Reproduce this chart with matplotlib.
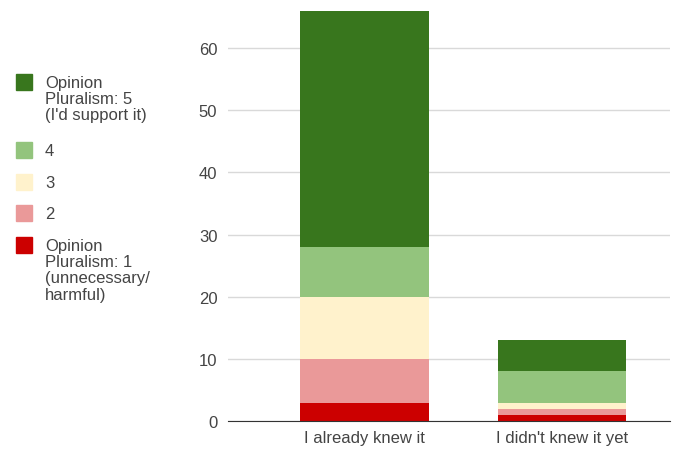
import matplotlib
matplotlib.use("Agg")
import matplotlib.pyplot as plt
import matplotlib.patches as mpatches
import numpy as np

plt.rcParams["font.family"] = ["Liberation Sans", "DejaVu Sans"]

# answers per group, stacked from rating 1 (bottom) to rating 5 (top)
groups = ["I already knew it", "I didn't knew it yet"]
rating_labels = ["Opinion\nPluralism: 1\n(unnecessary/\nharmful)", "2", "3", "4",
                 "Opinion\nPluralism: 5\n(I'd support it)"]
rating_1 = [3, 1]
rating_2 = [7, 1]
rating_3 = [10, 1]
rating_4 = [8, 5]
rating_5 = [38, 5]
colors = ["#cc0000", "#ea9999", "#fff2cc", "#93c47d", "#38761d"]

series = [rating_1, rating_2, rating_3, rating_4, rating_5]

W, H = 684, 452
fig = plt.figure(figsize=(W / 100, H / 100), dpi=100)
ax = fig.add_axes([0.334, 0.066, 0.646, 0.922])

x = np.arange(len(groups))
bottom = np.zeros(len(groups))
for vals, col, lab in zip(series, colors, rating_labels):
    ax.bar(x, vals, bottom=bottom, width=0.65, color=col, label=lab, zorder=2)
    bottom += np.array(vals)

ax.set_xlim(-0.69, 1.55)
ax.set_ylim(0, 67)
ax.set_yticks([0, 10, 20, 30, 40, 50, 60])
ax.set_xticks(x)
ax.set_xticklabels(groups)
ax.grid(axis="y", color="#d9d9d9", linewidth=1, zorder=0)
for s in ["top", "right", "left"]:
    ax.spines[s].set_visible(False)
ax.spines["bottom"].set_color("#333333")
ax.tick_params(axis="both", length=0, labelsize=12, colors="#444444", pad=8)
ax.tick_params(axis="x", pad=6)

# legend drawn by hand so the swatch sits on the first text line
tops = [75, 143, 175, 206, 238]  # pixel rows of swatch tops, top entry first
for top, col, lab in zip(tops, colors[::-1], rating_labels[::-1]):
    fig.patches.append(mpatches.Rectangle((16 / W, 1 - (top + 16) / H), 16 / W, 16 / H,
                                          transform=fig.transFigure, color=col))
    fig.text(45 / W, 1 - (top + 1) / H, lab, va="top", ha="left", fontsize=12,
             color="#444444", linespacing=1.1)

fig.savefig("out.png", dpi=100)
